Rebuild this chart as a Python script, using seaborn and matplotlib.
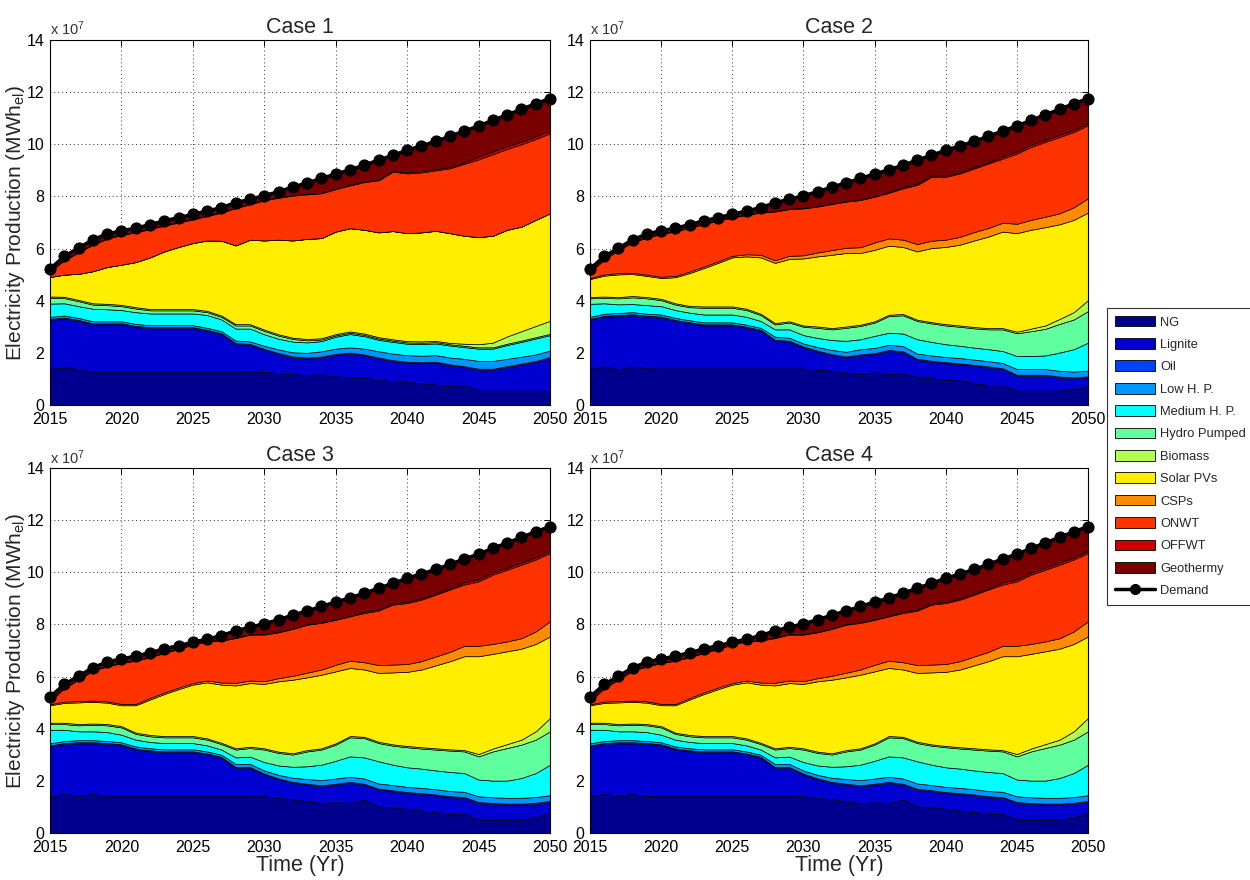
import matplotlib
matplotlib.use("Agg")
import matplotlib.pyplot as plt
import seaborn as sns
from matplotlib.patches import Patch
from matplotlib.lines import Line2D

# ---------------- data (values in units of 1e7 MWh_el) ----------------
YEARS = list(range(2015, 2051))

DEMAND = [5.22, 5.70, 6.02, 6.34, 6.56, 6.68, 6.78, 6.92, 7.06, 7.19, 7.31, 7.44,
          7.57, 7.76, 7.89, 8.03, 8.18, 8.36, 8.52, 8.69, 8.86, 9.02, 9.20, 9.39,
          9.58, 9.77, 9.94, 10.11, 10.31, 10.51, 10.70, 10.92, 11.13, 11.34, 11.56, 11.75]

SOURCES = ["NG", "Lignite", "Oil", "Low H. P.", "Medium H. P.", "Hydro Pumped",
           "Biomass", "Solar PVs", "CSPs", "ONWT", "OFFWT", "Geothermy"]

COLORS = ["#00008f", "#0000d0", "#0040ff", "#0096ff", "#00ffff", "#60ffa0",
          "#b0ff50", "#ffee00", "#ff8c00", "#ff3300", "#cc0000", "#780000"]

OIL = [0.04, 0.04, 0.04, 0.04, 0.04, 0.04, 0.04, 0.04, 0.04, 0.04, 0.04, 0.04,
       0.04, 0.04, 0.04, 0.04, 0.04, 0.04, 0.04, 0.04, 0.04, 0.04, 0.04, 0.04,
       0.04, 0.04, 0.04, 0.04, 0.04, 0.04, 0.04, 0.04, 0.04, 0.04, 0.04, 0.04]

# ---- Case 1 ----
NG_1 = [1.37, 1.45, 1.37, 1.28, 1.28, 1.28, 1.28, 1.28, 1.28, 1.28, 1.28, 1.28,
        1.28, 1.28, 1.28, 1.27, 1.22, 1.18, 1.15, 1.18, 1.10, 1.06, 1.05, 0.95,
        0.92, 0.88, 0.84, 0.78, 0.72, 0.76, 0.55, 0.55, 0.55, 0.55, 0.55, 0.55]
LIGNITE_1 = [1.89, 1.86, 1.85, 1.81, 1.81, 1.81, 1.71, 1.66, 1.66, 1.66, 1.66, 1.56,
             1.43, 1.05, 1.02, 0.84, 0.73, 0.64, 0.63, 0.64, 0.82, 0.91, 0.85, 0.83,
             0.76, 0.74, 0.76, 0.84, 0.80, 0.69, 0.80, 0.80, 0.90, 1.00, 1.10, 1.25]
LOWHP_1 = [0.08, 0.08, 0.08, 0.08, 0.08, 0.08, 0.08, 0.08, 0.08, 0.08, 0.08, 0.08,
           0.08, 0.10, 0.10, 0.12, 0.14, 0.16, 0.18, 0.20, 0.20, 0.20, 0.22, 0.24,
           0.25, 0.25, 0.25, 0.25, 0.26, 0.28, 0.30, 0.30, 0.28, 0.26, 0.25, 0.25]
MEDHP_1 = [0.51, 0.47, 0.45, 0.48, 0.46, 0.43, 0.45, 0.45, 0.45, 0.45, 0.45, 0.49,
           0.45, 0.46, 0.49, 0.44, 0.41, 0.41, 0.40, 0.39, 0.46, 0.51, 0.48, 0.44,
           0.45, 0.44, 0.45, 0.45, 0.46, 0.45, 0.47, 0.47, 0.53, 0.57, 0.61, 0.59]
HYDRO_1 = [0.22, 0.20, 0.19, 0.16, 0.16, 0.15, 0.14, 0.12, 0.12, 0.12, 0.12, 0.11,
           0.10, 0.12, 0.12, 0.13, 0.12, 0.10, 0.08, 0.06, 0.05, 0.05, 0.05, 0.05,
           0.05, 0.05, 0.05, 0.05, 0.05, 0.05, 0.05, 0.05, 0.05, 0.05, 0.05, 0.05]
BIOMASS_1 = [0.05, 0.05, 0.05, 0.05, 0.05, 0.05, 0.05, 0.05, 0.05, 0.05, 0.05, 0.05,
             0.05, 0.05, 0.05, 0.05, 0.05, 0.05, 0.05, 0.05, 0.05, 0.05, 0.05, 0.05,
             0.05, 0.05, 0.05, 0.05, 0.05, 0.08, 0.12, 0.18, 0.28, 0.36, 0.43, 0.50]
SOLAR_1 = [0.75, 0.85, 1.00, 1.23, 1.41, 1.54, 1.73, 1.98, 2.21, 2.38, 2.53, 2.70,
           2.87, 3.02, 3.24, 3.42, 3.63, 3.73, 3.84, 3.84, 3.93, 3.96, 3.98, 4.02,
           4.15, 4.14, 4.18, 4.22, 4.21, 4.14, 4.11, 4.10, 4.09, 4.01, 4.07, 4.12]
CSP_1 = [0.00, 0.00, 0.00, 0.00, 0.00, 0.00, 0.00, 0.00, 0.00, 0.00, 0.00, 0.00,
         0.00, 0.00, 0.00, 0.00, 0.00, 0.00, 0.00, 0.00, 0.00, 0.00, 0.00, 0.00,
         0.00, 0.00, 0.00, 0.00, 0.00, 0.00, 0.00, 0.00, 0.00, 0.00, 0.00, 0.00]
ONWT_1 = [0.21, 0.55, 0.82, 1.02, 1.09, 1.14, 1.14, 1.09, 0.99, 0.94, 0.91, 0.94,
          1.08, 1.43, 1.36, 1.54, 1.61, 1.72, 1.71, 1.72, 1.63, 1.64, 1.83, 2.00,
          2.28, 2.29, 2.30, 2.32, 2.49, 2.76, 2.98, 3.13, 3.10, 3.16, 3.10, 3.07]
OFFWT_1 = [0.02, 0.02, 0.02, 0.02, 0.02, 0.02, 0.02, 0.02, 0.02, 0.02, 0.02, 0.02,
           0.02, 0.02, 0.02, 0.02, 0.02, 0.02, 0.02, 0.02, 0.02, 0.02, 0.02, 0.02,
           0.02, 0.05, 0.05, 0.05, 0.05, 0.05, 0.10, 0.10, 0.10, 0.10, 0.10, 0.10]
GEO_1 = [0.05, 0.13, 0.15, 0.17, 0.16, 0.14, 0.14, 0.15, 0.16, 0.17, 0.17, 0.17,
         0.17, 0.19, 0.17, 0.16, 0.21, 0.31, 0.42, 0.55, 0.56, 0.58, 0.63, 0.75,
         0.61, 0.84, 0.97, 1.06, 1.18, 1.21, 1.18, 1.20, 1.21, 1.24, 1.26, 1.23]

# ---- Case 2 ----
NG_2 = [1.37, 1.48, 1.37, 1.48, 1.41, 1.40, 1.40, 1.40, 1.40, 1.40, 1.40, 1.40,
        1.40, 1.40, 1.40, 1.40, 1.35, 1.31, 1.25, 1.18, 1.25, 1.18, 1.22, 1.06,
        1.03, 0.97, 0.93, 0.84, 0.76, 0.76, 0.55, 0.55, 0.55, 0.55, 0.61, 0.71]
LIGNITE_2 = [1.89, 1.90, 2.04, 1.96, 1.97, 1.95, 1.82, 1.73, 1.65, 1.65, 1.65, 1.56,
             1.44, 1.06, 1.02, 0.80, 0.69, 0.60, 0.57, 0.72, 0.70, 0.89, 0.80, 0.67,
             0.63, 0.63, 0.63, 0.66, 0.68, 0.61, 0.57, 0.57, 0.57, 0.50, 0.41, 0.35]
LOWHP_2 = [0.08, 0.08, 0.08, 0.08, 0.08, 0.08, 0.08, 0.08, 0.08, 0.08, 0.08, 0.08,
           0.08, 0.12, 0.12, 0.12, 0.14, 0.16, 0.18, 0.20, 0.20, 0.20, 0.20, 0.20,
           0.20, 0.20, 0.20, 0.20, 0.20, 0.20, 0.22, 0.22, 0.22, 0.22, 0.22, 0.22]
MEDHP_2 = [0.50, 0.40, 0.33, 0.31, 0.33, 0.32, 0.30, 0.29, 0.30, 0.30, 0.30, 0.30,
           0.26, 0.28, 0.32, 0.32, 0.35, 0.38, 0.42, 0.38, 0.46, 0.46, 0.48, 0.55,
           0.52, 0.49, 0.47, 0.46, 0.46, 0.46, 0.50, 0.50, 0.52, 0.70, 0.86, 1.07]
HYDRO_2 = [0.21, 0.21, 0.23, 0.26, 0.26, 0.23, 0.21, 0.21, 0.26, 0.26, 0.26, 0.26,
           0.23, 0.19, 0.26, 0.32, 0.39, 0.41, 0.50, 0.51, 0.51, 0.64, 0.70, 0.70,
           0.71, 0.72, 0.73, 0.74, 0.76, 0.83, 0.87, 0.95, 1.02, 1.10, 1.14, 1.21]
BIOMASS_2 = [0.05, 0.05, 0.05, 0.05, 0.05, 0.05, 0.05, 0.05, 0.05, 0.05, 0.05, 0.05,
             0.05, 0.05, 0.05, 0.05, 0.05, 0.05, 0.05, 0.05, 0.05, 0.05, 0.05, 0.05,
             0.05, 0.05, 0.05, 0.05, 0.05, 0.05, 0.06, 0.10, 0.13, 0.19, 0.28, 0.42]
SOLAR_2 = [0.69, 0.80, 0.87, 0.84, 0.81, 0.80, 1.00, 1.26, 1.47, 1.67, 1.88, 2.01,
           2.16, 2.31, 2.39, 2.57, 2.69, 2.81, 2.82, 2.75, 2.74, 2.65, 2.57, 2.62,
           2.84, 2.96, 3.10, 3.32, 3.51, 3.70, 3.78, 3.79, 3.77, 3.63, 3.54, 3.36]
CSP_2 = [0.04, 0.05, 0.05, 0.05, 0.05, 0.05, 0.05, 0.06, 0.06, 0.06, 0.06, 0.08,
         0.10, 0.10, 0.12, 0.12, 0.15, 0.18, 0.20, 0.22, 0.28, 0.28, 0.28, 0.28,
         0.28, 0.28, 0.30, 0.32, 0.33, 0.34, 0.36, 0.38, 0.40, 0.42, 0.48, 0.55]
ONWT_2 = [0.22, 0.57, 0.88, 1.17, 1.42, 1.64, 1.71, 1.68, 1.63, 1.56, 1.47, 1.51,
          1.62, 1.87, 1.79, 1.80, 1.76, 1.77, 1.77, 1.81, 1.76, 1.75, 1.97, 2.27,
          2.45, 2.41, 2.43, 2.44, 2.47, 2.46, 2.69, 2.80, 2.87, 2.93, 2.89, 2.80]
OFFWT_2 = [0.02, 0.02, 0.02, 0.02, 0.02, 0.02, 0.02, 0.02, 0.02, 0.02, 0.02, 0.02,
           0.02, 0.02, 0.02, 0.02, 0.02, 0.02, 0.02, 0.02, 0.02, 0.02, 0.05, 0.05,
           0.05, 0.05, 0.05, 0.05, 0.05, 0.08, 0.08, 0.08, 0.08, 0.08, 0.08, 0.08]
GEO_2 = [0.05, 0.10, 0.10, 0.10, 0.10, 0.10, 0.10, 0.10, 0.12, 0.10, 0.10, 0.13,
         0.17, 0.32, 0.36, 0.47, 0.53, 0.63, 0.70, 0.81, 0.85, 0.86, 0.84, 0.90,
         0.78, 0.97, 1.01, 0.99, 1.00, 0.98, 0.98, 0.94, 0.96, 0.98, 1.01, 0.94]

# ---- Case 3 ----
NG_3 = [1.41, 1.50, 1.43, 1.50, 1.41, 1.41, 1.41, 1.41, 1.41, 1.41, 1.41, 1.41,
        1.41, 1.41, 1.41, 1.41, 1.34, 1.30, 1.21, 1.15, 1.18, 1.15, 1.28, 1.02,
        0.98, 0.93, 0.86, 0.81, 0.73, 0.73, 0.51, 0.51, 0.51, 0.51, 0.60, 0.77]
LIGNITE_3 = [1.91, 1.91, 2.01, 1.94, 2.00, 1.95, 1.79, 1.72, 1.68, 1.68, 1.68, 1.60,
             1.47, 1.08, 1.08, 0.83, 0.71, 0.62, 0.64, 0.64, 0.67, 0.77, 0.57, 0.64,
             0.62, 0.60, 0.63, 0.63, 0.64, 0.61, 0.64, 0.60, 0.58, 0.58, 0.52, 0.42]
LOWHP_3 = [0.08, 0.08, 0.08, 0.08, 0.08, 0.08, 0.08, 0.08, 0.08, 0.08, 0.08, 0.08,
           0.08, 0.12, 0.12, 0.12, 0.14, 0.16, 0.18, 0.20, 0.20, 0.20, 0.20, 0.20,
           0.20, 0.20, 0.20, 0.20, 0.20, 0.20, 0.22, 0.22, 0.22, 0.22, 0.22, 0.22]
MEDHP_3 = [0.52, 0.43, 0.34, 0.34, 0.34, 0.29, 0.26, 0.24, 0.24, 0.24, 0.24, 0.23,
           0.20, 0.25, 0.28, 0.32, 0.36, 0.42, 0.49, 0.59, 0.68, 0.78, 0.81, 0.85,
           0.78, 0.75, 0.74, 0.72, 0.73, 0.72, 0.64, 0.64, 0.66, 0.76, 0.92, 1.17]
HYDRO_3 = [0.22, 0.22, 0.23, 0.25, 0.26, 0.28, 0.22, 0.22, 0.22, 0.22, 0.22, 0.22,
           0.21, 0.30, 0.33, 0.48, 0.48, 0.47, 0.57, 0.58, 0.62, 0.73, 0.74, 0.70,
           0.73, 0.77, 0.77, 0.80, 0.82, 0.83, 0.89, 1.12, 1.25, 1.28, 1.28, 1.28]
BIOMASS_3 = [0.05, 0.05, 0.05, 0.05, 0.05, 0.05, 0.05, 0.05, 0.05, 0.05, 0.05, 0.05,
             0.05, 0.05, 0.05, 0.05, 0.05, 0.05, 0.05, 0.05, 0.05, 0.05, 0.05, 0.05,
             0.05, 0.05, 0.05, 0.05, 0.05, 0.05, 0.09, 0.11, 0.15, 0.19, 0.32, 0.51]
SOLAR_3 = [0.67, 0.76, 0.83, 0.83, 0.82, 0.80, 1.05, 1.36, 1.61, 1.80, 1.97, 2.15,
           2.23, 2.41, 2.44, 2.47, 2.70, 2.82, 2.79, 2.82, 2.76, 2.61, 2.58, 2.64,
           2.76, 2.84, 2.98, 3.18, 3.38, 3.60, 3.75, 3.63, 3.56, 3.49, 3.35, 3.13]
CSP_3 = [0.04, 0.05, 0.05, 0.05, 0.05, 0.05, 0.05, 0.06, 0.06, 0.06, 0.06, 0.07,
         0.08, 0.10, 0.10, 0.10, 0.12, 0.15, 0.18, 0.20, 0.25, 0.28, 0.28, 0.30,
         0.30, 0.30, 0.32, 0.34, 0.36, 0.40, 0.40, 0.38, 0.38, 0.40, 0.48, 0.58]
ONWT_3 = [0.11, 0.52, 0.82, 1.15, 1.34, 1.57, 1.66, 1.56, 1.52, 1.48, 1.48, 1.50,
          1.61, 1.72, 1.76, 1.79, 1.76, 1.80, 1.84, 1.79, 1.73, 1.70, 1.89, 2.09,
          2.30, 2.34, 2.36, 2.37, 2.39, 2.35, 2.47, 2.66, 2.75, 2.82, 2.76, 2.62]
OFFWT_3 = [0.02, 0.02, 0.02, 0.02, 0.02, 0.02, 0.02, 0.02, 0.02, 0.02, 0.02, 0.02,
           0.02, 0.02, 0.02, 0.02, 0.02, 0.02, 0.02, 0.02, 0.02, 0.02, 0.05, 0.05,
           0.05, 0.05, 0.05, 0.05, 0.05, 0.08, 0.08, 0.08, 0.08, 0.08, 0.08, 0.08]
GEO_3 = [0.10, 0.12, 0.12, 0.09, 0.15, 0.14, 0.15, 0.16, 0.13, 0.11, 0.06, 0.07,
         0.17, 0.26, 0.26, 0.40, 0.46, 0.51, 0.51, 0.61, 0.66, 0.69, 0.71, 0.81,
         0.77, 0.90, 0.94, 0.92, 0.92, 0.90, 0.97, 0.93, 0.95, 0.97, 0.99, 0.93]

# Case 4 is visually identical to Case 3 in the reference
CASES = [
    ("Case 1", [NG_1, LIGNITE_1, OIL, LOWHP_1, MEDHP_1, HYDRO_1, BIOMASS_1, SOLAR_1, CSP_1, ONWT_1, OFFWT_1, GEO_1]),
    ("Case 2", [NG_2, LIGNITE_2, OIL, LOWHP_2, MEDHP_2, HYDRO_2, BIOMASS_2, SOLAR_2, CSP_2, ONWT_2, OFFWT_2, GEO_2]),
    ("Case 3", [NG_3, LIGNITE_3, OIL, LOWHP_3, MEDHP_3, HYDRO_3, BIOMASS_3, SOLAR_3, CSP_3, ONWT_3, OFFWT_3, GEO_3]),
    ("Case 4", [NG_3, LIGNITE_3, OIL, LOWHP_3, MEDHP_3, HYDRO_3, BIOMASS_3, SOLAR_3, CSP_3, ONWT_3, OFFWT_3, GEO_3]),
]

# ---------------- styling ----------------
sns.set_theme(style="white")
plt.rcParams['font.family'] = ['Liberation Sans', 'DejaVu Sans']
plt.rcParams['mathtext.fontset'] = 'custom'
plt.rcParams['mathtext.rm'] = 'Liberation Sans'
plt.rcParams['mathtext.it'] = 'Liberation Sans'
plt.rcParams['axes.axisbelow'] = True

fig = plt.figure(figsize=(12.5, 8.8), dpi=100)
POS = [(0.040, 0.5398, 0.400, 0.4148),
       (0.472, 0.5398, 0.3984, 0.4148),
       (0.040, 0.0534, 0.400, 0.4148),
       (0.472, 0.0534, 0.3984, 0.4148)]

for i, ((title, series), pos) in enumerate(zip(CASES, POS)):
    ax = fig.add_axes(pos)
    ax.stackplot(YEARS, *series, colors=COLORS, edgecolor='black', linewidth=0.5)
    sns.lineplot(x=YEARS, y=DEMAND, ax=ax, color='black', linewidth=2.5,
                 marker='o', markersize=8, markeredgecolor='black',
                 clip_on=False, zorder=5, legend=False)
    ax.set_xlim(2015, 2050)
    ax.set_ylim(0, 14)
    ax.set_xticks(list(range(2015, 2051, 5)))
    ax.set_yticks(list(range(0, 15, 2)))
    ax.grid(True, linestyle=(0, (1, 3)), color='#333333', linewidth=0.7)
    ax.tick_params(axis='both', direction='in', top=True, right=True, length=4,
                   width=0.7, labelsize=11.5, colors='black')
    ax.tick_params(axis='x', pad=5)
    ax.tick_params(axis='y', pad=4)
    for s in ax.spines.values():
        s.set_visible(True)
        s.set_color('black')
        s.set_linewidth(0.8)
    ax.set_title(title, fontsize=15.5, pad=5)
    ax.text(0.0, 1.004, r'x 10$^{7}$', transform=ax.transAxes, ha='left',
            va='bottom', fontsize=10.5, color='#333333')
    if i % 2 == 0:
        ax.set_ylabel(r'Electricity Production (MWh$_{el}$)', fontsize=15, labelpad=0)
    else:
        ax.set_ylabel('')
    if i >= 2:
        ax.set_xlabel('Time (Yr)', fontsize=15.5, labelpad=0)
    else:
        ax.set_xlabel('')

handles = [Patch(facecolor=c, edgecolor='black', linewidth=0.6) for c in COLORS]
handles.append(Line2D([0], [0], color='black', linewidth=2.5, marker='o', markersize=7))
labels = SOURCES + ["Demand"]
leg = fig.legend(handles, labels, loc='upper left', bbox_to_anchor=(0.8856, 0.65),
                 fontsize=9.3, frameon=True, fancybox=False, edgecolor='black',
                 handlelength=3.1, handleheight=0.9, labelspacing=0.74,
                 borderpad=0.6, handletextpad=0.4, borderaxespad=0.0)
leg.get_frame().set_linewidth(0.8)

fig.savefig("out.png", dpi=100)
